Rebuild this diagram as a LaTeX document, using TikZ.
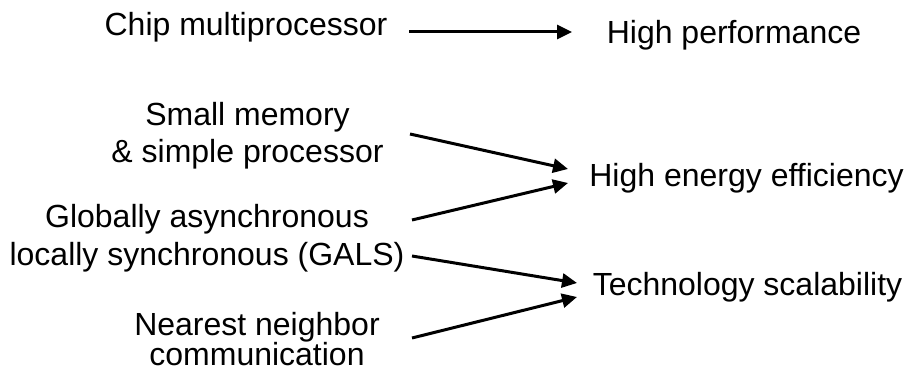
\documentclass[tikz,border=0pt]{standalone}
\usepackage{fontspec}
\setmainfont[Ligatures=NoCommon]{Liberation Sans}
\usetikzlibrary{arrows.meta}
\tikzset{
  label/.style={inner sep=0pt, anchor=base, align=center,
    font=\fontsize{32pt}{38pt}\selectfont},
  arr/.style={line width=3pt, -{Triangle[length=15pt,width=14pt]}}
}
\begin{document}
\begin{tikzpicture}[x=1pt,y=-1pt]
  \useasboundingbox (0,0) rectangle (909,371);

  % causes (left) and benefits (right); base = baseline of the last line
  \node[label] (cm)   at (246,36)    {Chip multiprocessor};
  \node[label] (hp)   at (734,44)    {High performance};
  \node[label] (sm)   at (247.5,163) {Small memory\\[-1pt]\& simple processor};
  \node[label] (hee)  at (746.5,187) {High energy efficiency};
  \node[label] (gals) at (207,265)   {Globally asynchronous\\locally synchronous (GALS)};
  \node[label] (ts)   at (747.5,295) {Technology scalability};
  \node[label] (nn)   at (257,365)   {Nearest neighbor\\[-8pt]communication};

  % arrows from each feature to the benefit it yields
  \draw[arr] ([shift={(163,-4)}]cm.base)     -- ([shift={(-162,-12)}]hp.base);
  \draw[arr] ([shift={(162.5,-29)}]sm.base)  -- ([shift={(-178.5,-18)}]hee.base);
  \draw[arr] ([shift={(205,-45)}]gals.base)  -- ([shift={(-178.5,-4)}]hee.base);
  \draw[arr] ([shift={(205,-9)}]gals.base)   -- ([shift={(-170.5,-12)}]ts.base);
  \draw[arr] ([shift={(155,-27)}]nn.base)    -- ([shift={(-170.5,2)}]ts.base);
\end{tikzpicture}
\end{document}
